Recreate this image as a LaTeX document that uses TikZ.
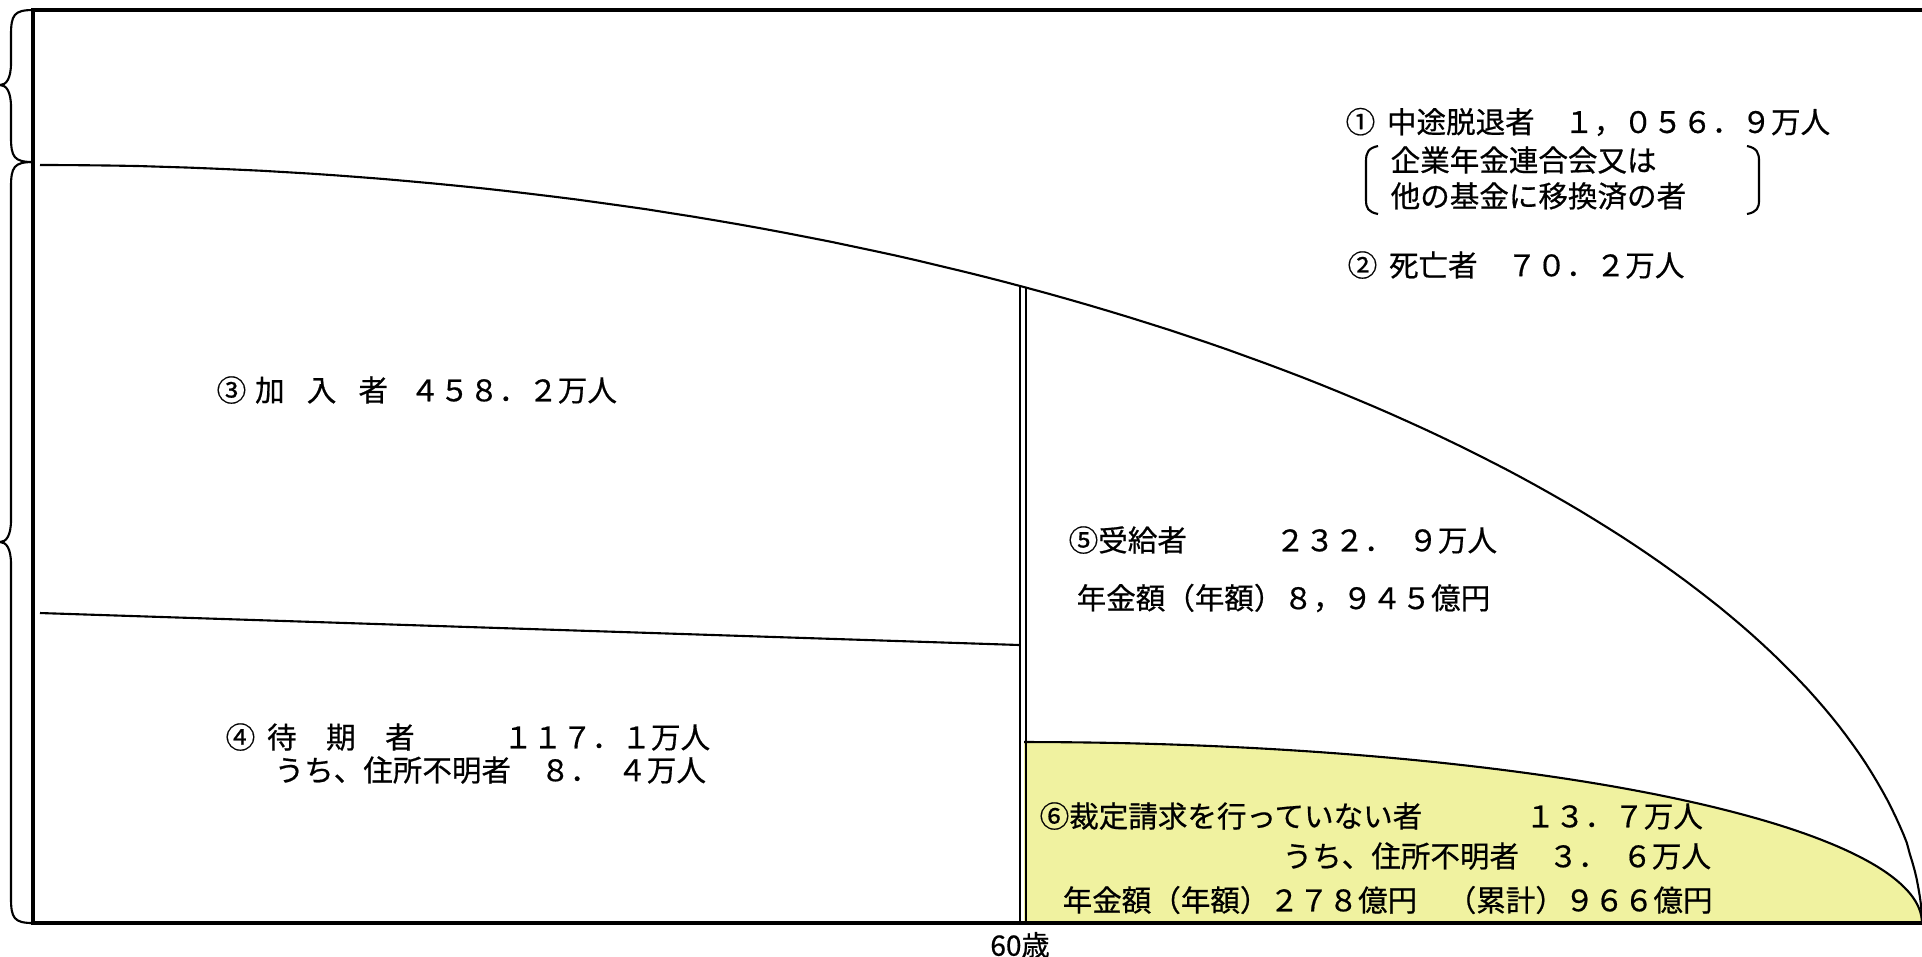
\documentclass[tikz,border=0pt]{standalone}
\usepackage{fontspec}
\usepackage{tikz}
\setmainfont{Noto Sans CJK JP}[FakeBold=0.6]
\definecolor{paleyellow}{RGB}{240,242,160}

\begin{document}
\begin{tikzpicture}[x=0.01cm,y=-0.01cm,
        lbl/.style={anchor=west,inner sep=0pt,font=\fontsize{8.4pt}{10pt}\selectfont},
        frame/.style={line width=1.1pt},
        thin/.style={line width=0.6pt}]
        \useasboundingbox (0,0) rectangle (1922,956);
        \fill[paleyellow] (1024,923) -- plot[domain=90:0,samples=80] ({1024+898*cos(\x)},{923-181*sin(\x)}) -- cycle;
        \draw[thin] plot[domain=90:0,samples=80] ({1024+898*cos(\x)},{923-181*sin(\x)});
        \draw[thin] plot[domain=90:0.5,samples=120] ({40+1882*cos(\x)},{923-758*sin(\x)^1.1}) -- (1922,923);
        \draw[thin] (40,613) -- (1020,645);
        \draw[thin] (1020,286) -- (1020,923);
        \draw[thin] (1026,288) -- (1026,923);
        \draw[frame] (1922,10) -- (33,10) -- (33,923) -- (1922,923);
        \foreach \Top/\Mid/\Bot in {10/85/162, 162/542/923}
        \draw[thin] (33,\Top) .. controls (14,\Top) and (11,\Top+5) .. (11,\Top+25) -- (11,\Mid-22)
            .. controls (11,\Mid-6) and (6,\Mid) .. (0,\Mid) .. controls (6,\Mid) and (11,\Mid+6) .. (11,\Mid+22)
            -- (11,\Bot-25) .. controls (11,\Bot-5) and (14,\Bot) .. (33,\Bot);
        \draw[thin] (1378,146) .. controls (1368,148) and (1366,153) .. (1366,161) -- (1366,200) .. controls (1366,208) and (1368,212) .. (1378,214);
        \draw[thin] (1747,146) .. controls (1757,148) and (1759,153) .. (1759,161) -- (1759,200) .. controls (1759,208) and (1757,212) .. (1747,214);
        \foreach \Pos/\Name/\Text in {(1345,122)/out/{①\hspace{0.4em}中途脱退者　１，０５６．９万人},
            (1390,160)/fed1/{企業年金連合会又は}, (1390,196)/fed2/{他の基金に移換済の者},
            (1347,265)/dead/{②\hspace{0.4em}死亡者　７０．２万人},
            (216,390)/memb/{③\hspace{0.3em}加\hspace{0.75em}入\hspace{0.75em}者\hspace{0.75em}４５８．２万人},
            (225,737)/wait1/{④\hspace{0.4em}待　期　者　　　１１７．１万人},
            (274,770)/wait2/{うち、住所不明者　８．\hspace{0.6em}４万人},
            (1068,540)/recv1/{⑤受給者　　　２３２．\hspace{0.5em}９万人},
            (1076,598)/recv2/{年金額（年額）８，９４５億円},
            (1039,816)/nocl1/{⑥裁定請求を行っていない者　　　\hspace{0.5em}１３．７万人},
            (1282,856)/nocl2/{うち、住所不明者　３．\hspace{0.5em}６万人},
            (1062,900)/nocl3/{年金額（年額）２７８億円　（累計）９６６億円}}
        \node[lbl] (\Name) at \Pos {\Text};
        \node[font=\fontsize{8pt}{9pt}\selectfont,inner sep=0pt] (age) at (1020,945) {60歳};
\end{tikzpicture}
\end{document}
